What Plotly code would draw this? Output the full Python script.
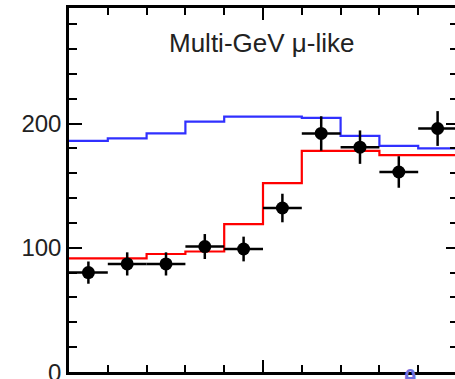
import plotly.graph_objects as go
import numpy as np

# cos(zenith) bin edges and centers
bin_edges = [-1.0, -0.8, -0.6, -0.4, -0.2, 0.0, 0.2, 0.4, 0.6, 0.8, 1.0]
bin_centers = [-0.9, -0.7, -0.5, -0.3, -0.1, 0.1, 0.3, 0.5, 0.7, 0.9]

# observed data
data_counts = [80, 87, 87, 101, 99, 132, 192, 181, 161, 196]

# prediction with oscillation (red)
osc_pred = [91.5, 91.5, 95, 97, 119, 152, 178, 178, 174.5, 174.5]

# prediction without oscillation (blue)
no_osc_pred = [186, 188, 192, 201.5, 205.5, 205.5, 204.5, 190, 182, 180]

y_ticks = [0, 100, 200]
title_text = "Multi-GeV μ-like"

data_err = [float(np.sqrt(v)) for v in data_counts]

fig = go.Figure()

fig.add_trace(go.Scatter(
    x=bin_edges, y=osc_pred + [osc_pred[-1]], mode="lines", line_shape="hv",
    line=dict(color="#ff0000", width=2.2), showlegend=False, hoverinfo="skip"))
fig.add_trace(go.Scatter(
    x=bin_edges, y=no_osc_pred + [no_osc_pred[-1]], mode="lines", line_shape="hv",
    line=dict(color="#3030ff", width=2.2), showlegend=False, hoverinfo="skip"))
fig.add_trace(go.Scatter(
    x=bin_centers, y=data_counts, mode="markers",
    marker=dict(color="black", size=13),
    error_x=dict(type="constant", value=0.1, color="black", thickness=2.5, width=0),
    error_y=dict(type="data", array=data_err, color="black", thickness=2.5, width=0),
    showlegend=False))
# invisible trace on right axis to show mirrored ticks
fig.add_trace(go.Scatter(x=[0], y=[0], yaxis="y2", mode="markers",
                         marker=dict(opacity=0), showlegend=False, hoverinfo="skip"))

x_max = -1 + 386 / 194.0
y_max = 293

fig.update_layout(
    width=455, height=379,
    margin=dict(l=69, r=0, t=8, b=7),
    paper_bgcolor="white", plot_bgcolor="white",
    font=dict(family="Liberation Sans, Arial, sans-serif", color="#222222"),
    xaxis=dict(
        range=[-1, x_max], showgrid=False, zeroline=False,
        showline=True, linecolor="black", linewidth=2.5, mirror="ticks",
        ticks="inside", tickvals=[-1, 0, 1], ticklen=12, tickwidth=2, tickcolor="black",
        showticklabels=False,
        minor=dict(tick0=-1, dtick=0.2, ticks="inside", ticklen=7, tickwidth=2,
                   tickcolor="black", showgrid=False),
    ),
    yaxis=dict(
        range=[0, y_max], showgrid=False, zeroline=False,
        showline=True, linecolor="black", linewidth=2.5, mirror=False,
        ticks="inside", tickvals=y_ticks, ticktext=[str(v) for v in y_ticks],
        ticklen=13, tickwidth=2, tickcolor="black",
        tickfont=dict(size=24, color="#222222"),
        minor=dict(tick0=0, dtick=20, ticks="inside", ticklen=8, tickwidth=2,
                   tickcolor="black", showgrid=False),
    ),
    yaxis2=dict(
        range=[0, y_max], overlaying="y", side="right", showgrid=False,
        zeroline=False, showline=False, showticklabels=False,
        ticks="inside", tickvals=y_ticks, ticklen=9, tickwidth=2, tickcolor="black",
        minor=dict(tick0=0, dtick=20, ticks="inside", ticklen=5, tickwidth=2,
                   tickcolor="black", showgrid=False),
    ),
    annotations=[
        dict(text=title_text, xref="paper", yref="paper", x=0.4987, y=0.905,
             xanchor="center", yanchor="middle", showarrow=False,
             font=dict(size=26, color="#222222",
                       family="Liberation Sans, Arial, sans-serif")),
        dict(text=str(y_ticks[0]), xref="paper", yref="y", x=-6 / 386.0, y=y_ticks[0],
             xanchor="right", yanchor="middle", showarrow=False,
             font=dict(size=24, color="#222222",
                       family="Liberation Sans, Arial, sans-serif")),
        dict(text="<b>θ</b>", xref="paper", yref="paper", x=(410 - 69) / 386.0, y=0.021,
             xanchor="center", yanchor="top", showarrow=False,
             font=dict(size=23, color="#7070e0",
                       family="Liberation Sans, Arial, sans-serif")),
    ],
)

fig.write_html("out.html")
